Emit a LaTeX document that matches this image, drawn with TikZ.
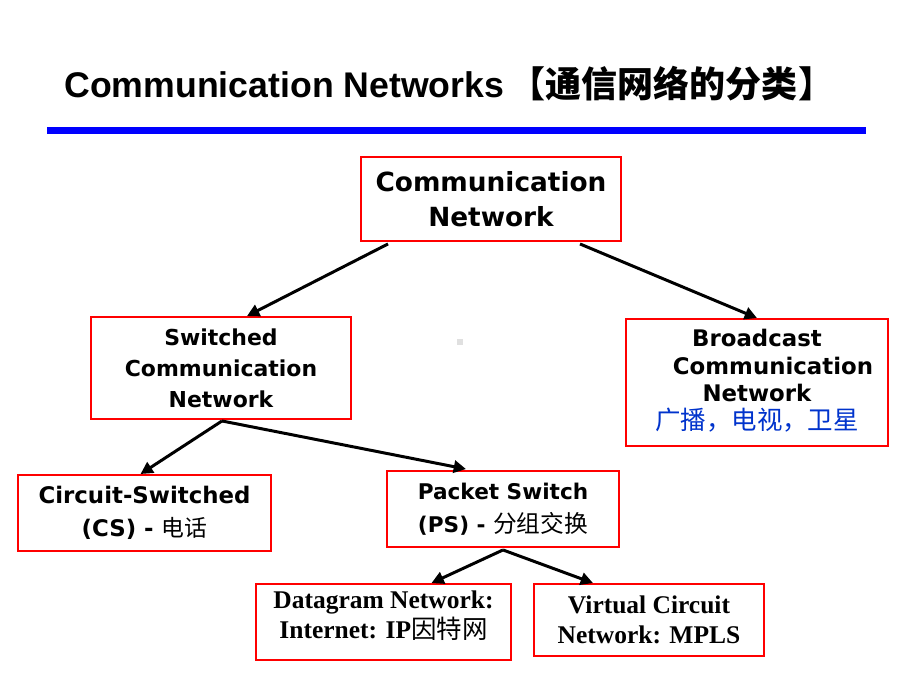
\documentclass[tikz,border=0pt]{standalone}
\usepackage{fontspec}
\setmainfont{DejaVu Sans}
\newfontfamily\titlefont{Liberation Sans}
\newfontfamily\timesfont{Liberation Serif}
\newfontfamily\cjk{Noto Sans CJK SC}
\newcommand\zh[1]{{\cjk\mdseries #1}}
\usetikzlibrary{
    arrows.meta,
    calc,
    positioning
}
\definecolor{zhblue}{RGB}{0,51,204}

\begin{document}
\begin{tikzpicture}[
    x=0.02cm, y=-0.02cm,
    netbox/.style={
      draw=red,
      line width=1.1pt,
      inner sep=0pt,
      align=center,
      font=\bfseries
    },
    netarrow/.style={
      line width=1.7pt,
      -{Triangle[length=7pt,width=7pt]}
    }
  ]

  \useasboundingbox (0,0) rectangle (920,690);

  % title {{{
  \node[anchor=west, inner sep=0pt] (title) at (64,84)
    {{\titlefont\bfseries\fontsize{20.3}{24}\selectfont Communication Networks}
     {\cjk\bfseries\fontsize{20.5}{24}\selectfont 【通信网络的分类】}};
  \fill[blue] (47,127) rectangle (866,134);
  % }}}

  % top {{{
  \node[
    netbox,
    minimum width=5.2cm,
    minimum height=1.68cm,
    font=\bfseries\fontsize{15}{20}\selectfont
  ] (net) at (491,199)
  {Communication\\Network};
  % }}}

  % switched {{{
  \node[
    netbox,
    minimum width=5.2cm,
    minimum height=2.04cm,
    font=\bfseries\fontsize{12.5}{17.6}\selectfont
  ] (switched) at (221,368)
  {Switched\\Communication\\Network};
  % }}}

  % broadcast {{{
  \node[
    netbox,
    minimum width=5.24cm,
    minimum height=2.54cm,
    font=\bfseries\fontsize{13}{15.6}\selectfont
  ] (broadcast) at (757,382.5)
  {Broadcast\\\hspace*{0.64cm}Communication\\Network\\
   \textcolor{zhblue}{\fontsize{14.5}{16}\selectfont\zh{广播，电视，卫星}}\\[-12pt]\mbox{}};
  % }}}

  % circuit switched {{{
  \node[
    netbox,
    minimum width=5.06cm,
    minimum height=1.52cm,
    font=\bfseries\fontsize{13}{18.7}\selectfont
  ] (cs) at (144.5,513)
  {Circuit-Switched\\(CS) - {\fontsize{13}{18.7}\selectfont\zh{电话}}};
  % }}}

  % packet switch {{{
  \node[
    netbox,
    minimum width=4.64cm,
    minimum height=1.52cm,
    font=\bfseries\fontsize{12.3}{19}\selectfont
  ] (ps) at (503,509)
  {Packet Switch\\(PS) - {\fontsize{13.5}{19}\selectfont\zh{分组交换}}};
  % }}}

  % datagram {{{
  \node[
    netbox,
    minimum width=5.1cm,
    minimum height=1.52cm,
    font=\timesfont\bfseries\fontsize{14.5}{17}\selectfont
  ] (datagram) at (383.5,622)
  {Datagram Network:\\Internet: IP\zh{因特网}\\[-9pt]\mbox{}};
  % }}}

  % virtual circuit {{{
  \node[
    netbox,
    minimum width=4.6cm,
    minimum height=1.44cm,
    font=\timesfont\bfseries\fontsize{14.5}{17}\selectfont
  ] (vc) at (649,620)
  {Virtual Circuit\\Network: MPLS};
  % }}}

  % arrows {{{
  \draw[netarrow] ($(net.south)+(-103,2)$) -- ($(switched.north)+(26,0)$);
  \draw[netarrow] ($(net.south)+(89,2)$) -- (broadcast.north);
  \draw[netarrow] ($(switched.south)+(1,1)$) -- ($(cs.north)+(-4,0)$);
  \draw[netarrow] ($(switched.south)+(1,1)$) -- ($(ps.north)+(-37,-1)$);
  \draw[netarrow] ($(ps.south)+(0,2)$) -- ($(datagram.north)+(48,0)$);
  \draw[netarrow] ($(ps.south)+(0,2)$) -- ($(vc.north)+(-56,0)$);
  % }}}

  \fill[black!12] (457,339) rectangle (463,345);

\end{tikzpicture}
\end{document}
